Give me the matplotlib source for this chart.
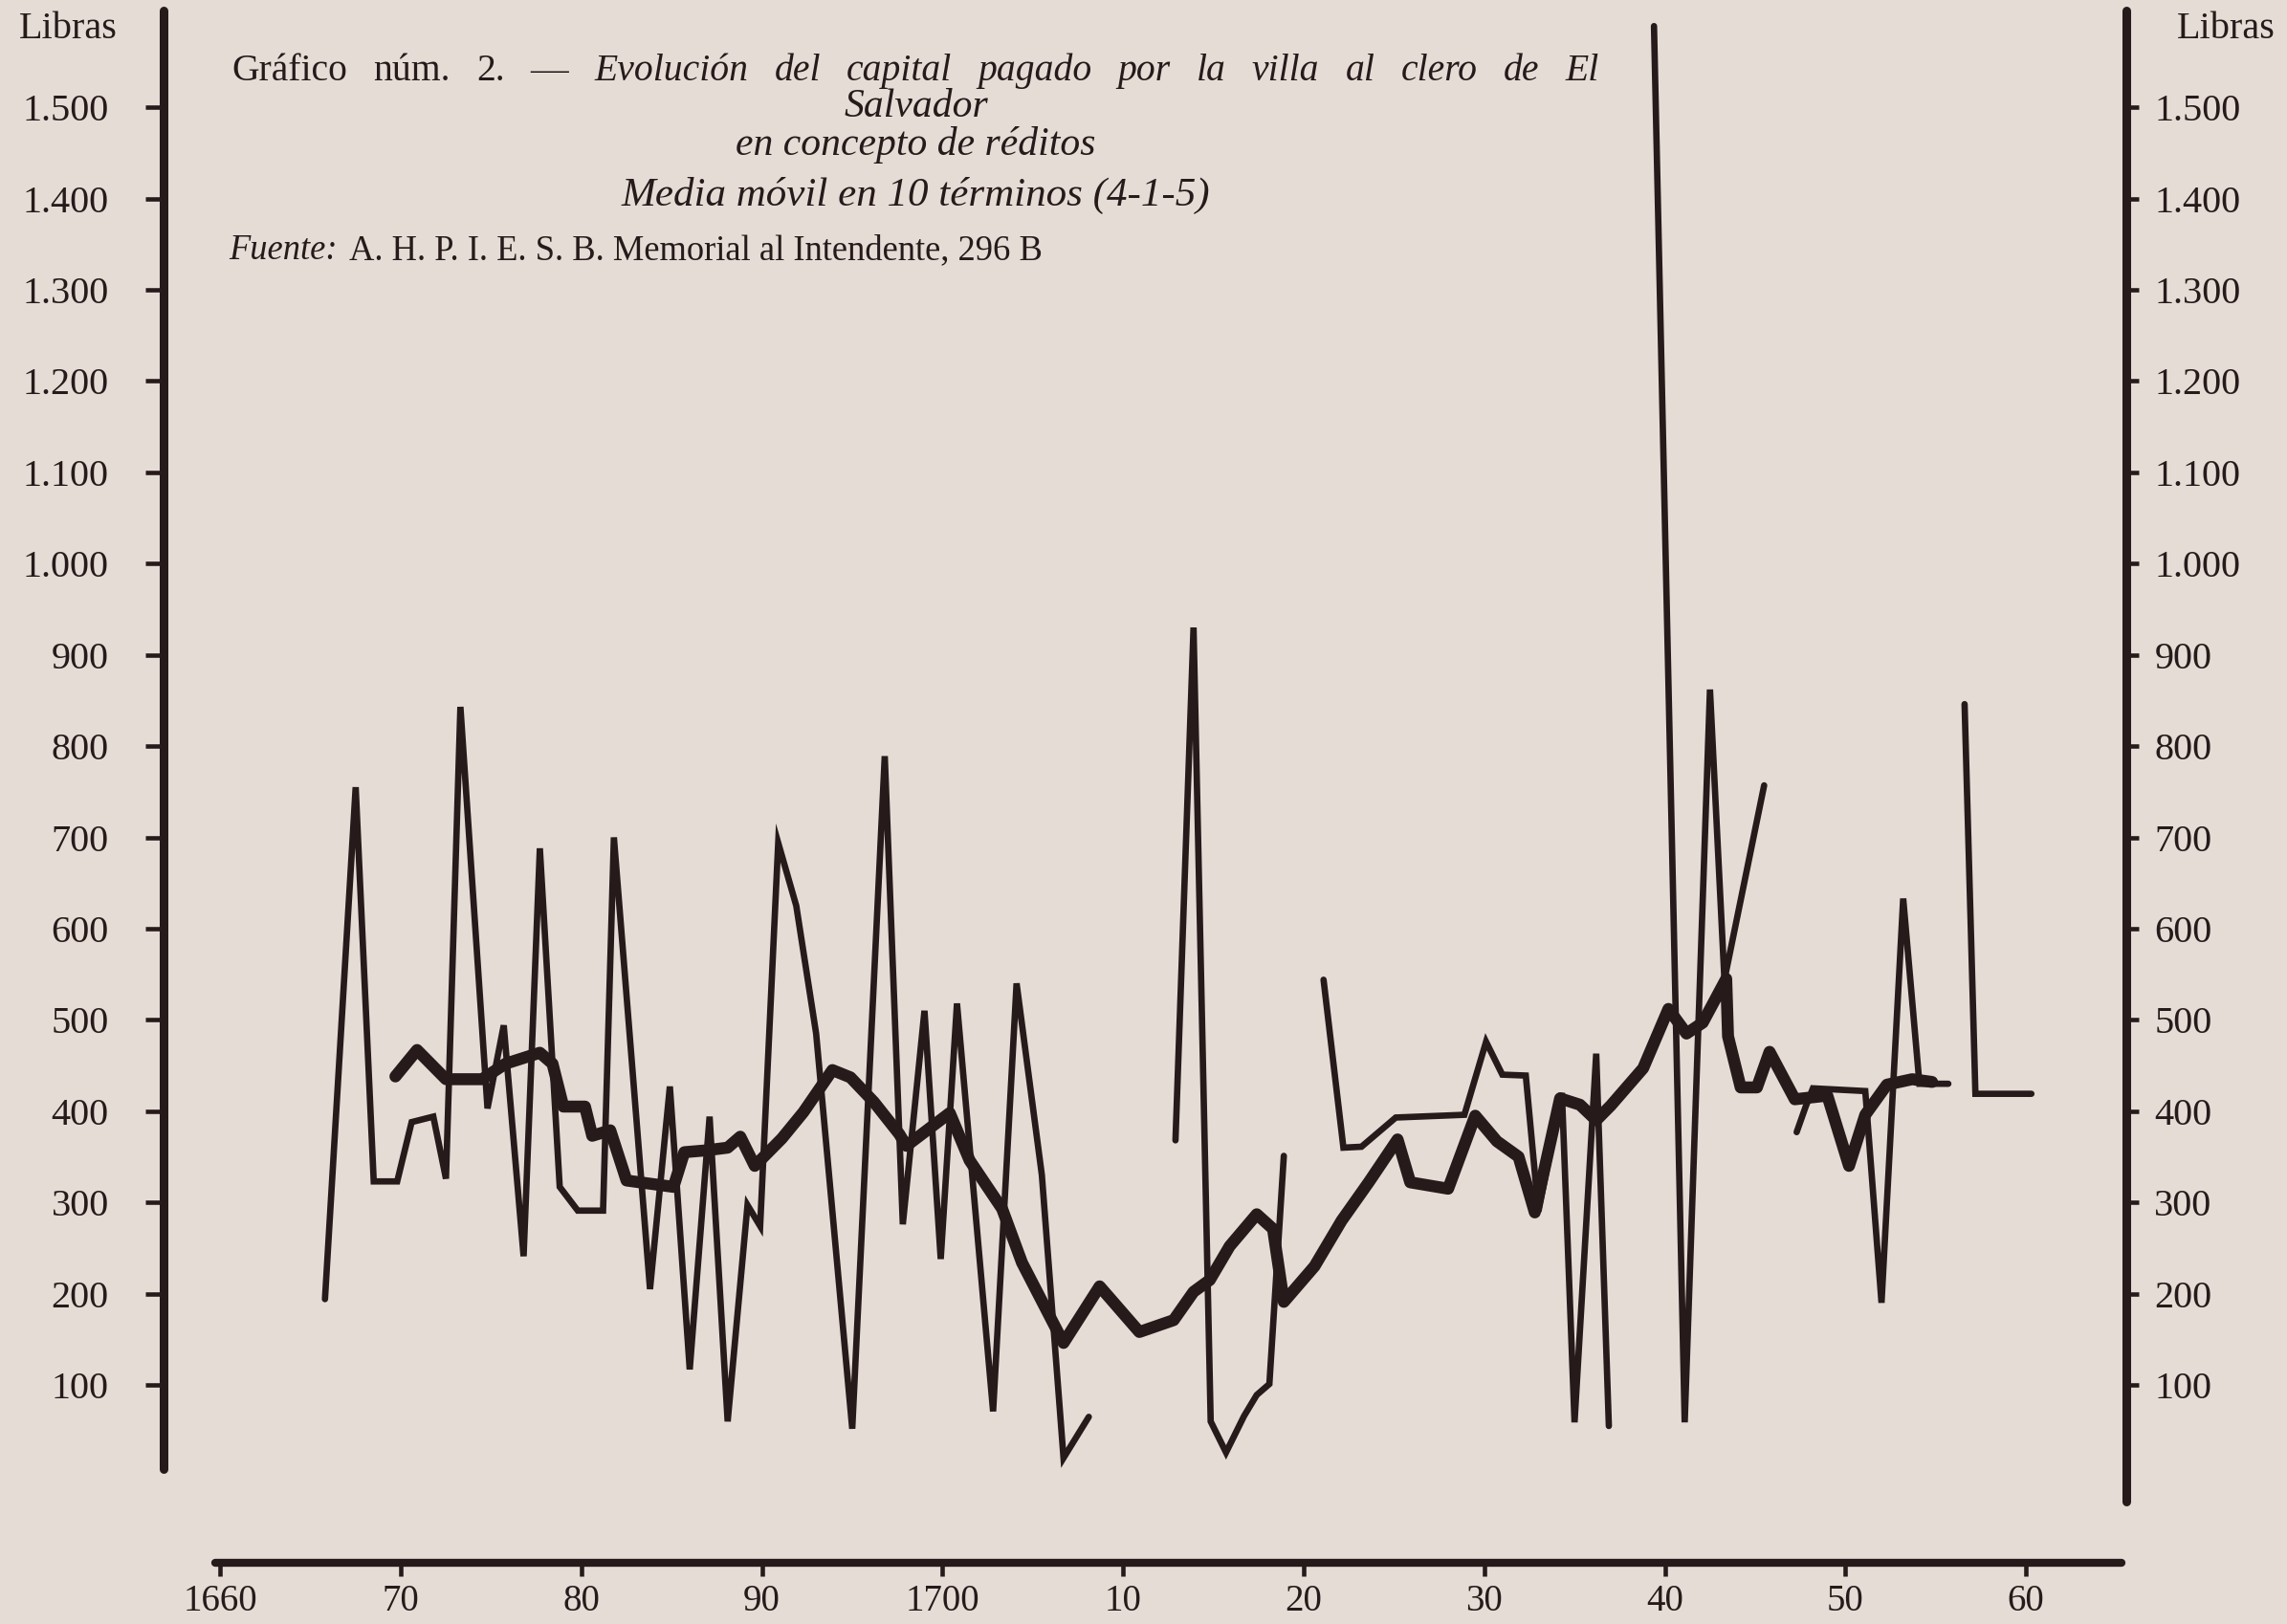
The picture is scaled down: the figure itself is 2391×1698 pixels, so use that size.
#!/usr/bin/env python3
"""Gráfico núm. 2 - capital pagado por la villa al clero de El Salvador (réditos)."""
import matplotlib

matplotlib.use("Agg")
import matplotlib.pyplot as plt

PAPER = "#e5dcd6"
INK = "#271a1a"

# thin (annual) series; the pen does not sit exactly on whole years
raw_a_years = [1665.8, 1667.5, 1668.5, 1669.8, 1670.6, 1671.8, 1672.5, 1673.3, 1674.8, 1675.7,
               1676.8, 1677.7, 1678.8, 1679.8, 1681.2, 1681.8, 1683.8, 1684.9, 1686.0, 1687.1,
               1688.1, 1689.2, 1689.9, 1690.9, 1691.9, 1693.0, 1695.0, 1696.8, 1697.8, 1699.0,
               1699.9, 1700.8, 1702.8, 1704.1, 1705.5, 1706.7, 1708.1]
raw_a_vals = [194, 755, 323, 323, 388, 394, 326, 843, 403, 494,
              241, 688, 317, 291, 291, 700, 205, 427, 117, 394,
              60, 297, 274, 694, 625, 485, 52, 789, 276, 510,
              238, 518, 71, 540, 330, 20, 65]

raw_b_years = [1712.9, 1713.9, 1714.85, 1715.7, 1716.7, 1717.4, 1718.1, 1718.9]
raw_b_vals = [368, 930, 60, 26, 66, 89, 101, 351]

raw_c_years = [1721.1, 1722.2, 1723.2, 1725.1, 1728.9, 1730.1, 1731.0, 1732.3, 1733.0,
               1734.3, 1735.0, 1736.2, 1736.9]
raw_c_vals = [544, 360, 361, 393, 396, 476, 440, 439, 290, 420, 59, 463, 55]

raw_d_years = [1739.4, 1741.1, 1742.5, 1743.3, 1745.5]
raw_d_vals = [1589, 59, 862, 544, 757]

raw_e_years = [1747.3, 1747.8, 1748.2, 1751.1, 1752.0, 1753.2, 1754.1, 1755.7]
raw_e_vals = [377, 405, 425, 422, 190, 633, 430, 430]

raw_f_years = [1756.6, 1757.2, 1760.3]
raw_f_vals = [846, 419, 419]

# media móvil en 10 términos (thick line)
ma_years = [1669.7, 1670.9, 1672.5, 1674.5, 1675.8, 1677.7, 1678.4, 1679.0, 1680.2, 1680.6,
            1681.6, 1682.5, 1685.1, 1685.7, 1686.9, 1688.1, 1688.8, 1689.6, 1691.1, 1692.3,
            1693.9, 1694.9, 1696.2, 1697.6, 1698.0, 1699.4, 1700.4, 1701.5, 1703.3, 1704.4,
            1706.7, 1708.7, 1710.9, 1712.8, 1713.9, 1714.8, 1715.9, 1717.4, 1718.3, 1718.9,
            1720.6, 1722.1, 1723.6, 1725.2, 1725.9, 1728.0, 1729.5, 1730.7, 1731.9, 1732.8,
            1734.2, 1735.3, 1736.2, 1737.0, 1738.8, 1740.2, 1741.2, 1742.1, 1743.4, 1743.5,
            1744.2, 1745.1, 1745.8, 1747.2, 1749.0, 1750.2, 1751.1, 1752.3, 1753.7, 1754.8]
ma_vals = [438, 467, 435, 435, 452, 464, 452, 405, 405, 373,
           379, 324, 317, 355, 357, 360, 372, 340, 370, 399,
           445, 437, 410, 375, 362, 383, 398, 346, 293, 234,
           146, 208, 158, 171, 202, 215, 252, 287, 271, 191,
           230, 280, 322, 369, 322, 315, 395, 367, 350, 289,
           414, 407, 390, 406, 447, 512, 485, 497, 545, 482,
           426, 426, 465, 413, 417, 340, 396, 429, 435, 432]

y_ticks = list(range(100, 1600, 100))
y_labels = ["100", "200", "300", "400", "500", "600", "700", "800", "900",
            "1.000", "1.100", "1.200", "1.300", "1.400", "1.500"]
x_ticks = list(range(1660, 1761, 10))
x_labels = ["1660", "70", "80", "90", "1700", "10", "20", "30", "40", "50", "60"]

plt.rcParams["font.family"] = ["Liberation Serif", "DejaVu Serif"]

W, H, DPI = 2391, 1698, 100
# layout measured on a 1568x1114 preview of the scan
PW, PH = 1568, 1114


def fx(px):
    return px / PW


def fy(py):
    return 1 - py / PH


fig = plt.figure(figsize=(W / DPI, H / DPI), dpi=DPI)
fig.patch.set_facecolor(PAPER)

ax = fig.add_axes([fx(112), fy(1072), fx(1458) - fx(112), fy(0) - fy(1072)])
ax.set_facecolor("none")
ax.set_xlim(1656.85, 1765.57)
ax.set_ylim(-94.9, 1617.6)

segments = [(raw_a_years, raw_a_vals), (raw_b_years, raw_b_vals), (raw_c_years, raw_c_vals),
            (raw_d_years, raw_d_vals), (raw_e_years, raw_e_vals), (raw_f_years, raw_f_vals)]
for xs, ys in segments:
    ax.plot(xs, ys, color=INK, lw=4.8, solid_joinstyle="miter", solid_capstyle="round")
ax.plot(ma_years, ma_vals, color=INK, lw=9, solid_joinstyle="round", solid_capstyle="round")

ax.spines["top"].set_visible(False)
ax.spines["right"].set_visible(False)
ax.spines["left"].set_bounds(8, 1606)
ax.spines["bottom"].set_bounds(1659.7, 1765.3)
for side, lw in (("left", 6.5), ("bottom", 6)):
    ax.spines[side].set_linewidth(lw)
    ax.spines[side].set_color(INK)
    ax.spines[side].set_capstyle("round")

ax.set_yticks(y_ticks, y_labels)
ax.tick_params(axis="y", direction="out", length=14, width=3.3, pad=27, labelsize=29, colors=INK)
ax.set_xticks(x_ticks, x_labels)
ax.tick_params(axis="x", direction="out", length=10, width=3.3, pad=6, labelsize=28, colors=INK)

ax2 = ax.twinx()
ax2.set_ylim(ax.get_ylim())
for side in ("top", "left", "bottom"):
    ax2.spines[side].set_visible(False)
ax2.spines["right"].set_bounds(-28, 1606)
ax2.spines["right"].set_linewidth(6.5)
ax2.spines["right"].set_color(INK)
ax2.spines["right"].set_capstyle("round")
ax2.set_yticks(y_ticks, y_labels)
ax2.tick_params(axis="y", direction="out", length=9, width=3.3, pad=12, labelsize=29, colors=INK)

fig.text(fx(13), fy(20), "Libras", ha="left", va="center", fontsize=29, color=INK)
fig.text(fx(1560), fy(20), "Libras", ha="right", va="center", fontsize=29, color=INK)

# title block, first line justified like the printed page
renderer = fig.canvas.get_renderer()
line1 = [("Gráfico", "normal"), ("núm.", "normal"), ("2.", "normal"), ("—", "normal"),
         ("Evolución", "italic"), ("del", "italic"), ("capital", "italic"), ("pagado", "italic"),
         ("por", "italic"), ("la", "italic"), ("villa", "italic"), ("al", "italic"),
         ("clero", "italic"), ("de", "italic"), ("El", "italic")]
words = [fig.text(0, fy(55), w, fontsize=28.5, style=st, va="baseline", color=INK) for w, st in line1]
widths = [t.get_window_extent(renderer).width for t in words]
x0, x1 = fx(159) * W, fx(1096) * W
gap = (x1 - x0 - sum(widths)) / (len(words) - 1)
x = x0
for t, w in zip(words, widths):
    t.set_x(x / W)
    x += w + gap

fig.text(fx(628), fy(80), "Salvador", ha="center", va="baseline", fontsize=30,
         style="italic", color=INK)
fig.text(fx(628), fy(106), "en concepto de réditos", ha="center", va="baseline", fontsize=30,
         style="italic", color=INK)
fig.text(fx(628), fy(141), "Media móvil en 10 términos (4-1-5)", ha="center", va="baseline",
         fontsize=31, style="italic", color=INK)
src = fig.text(fx(157), fy(178), "Fuente:", ha="left", va="baseline", fontsize=26.3,
               style="italic", color=INK)
sw = src.get_window_extent(renderer).width
fig.text(fx(157) + (sw + 12) / W, fy(178), "A. H. P. I. E. S. B. Memorial al Intendente, 296 B",
         ha="left", va="baseline", fontsize=26.3, color=INK)

fig.savefig("out.png", dpi=DPI, facecolor=PAPER)
